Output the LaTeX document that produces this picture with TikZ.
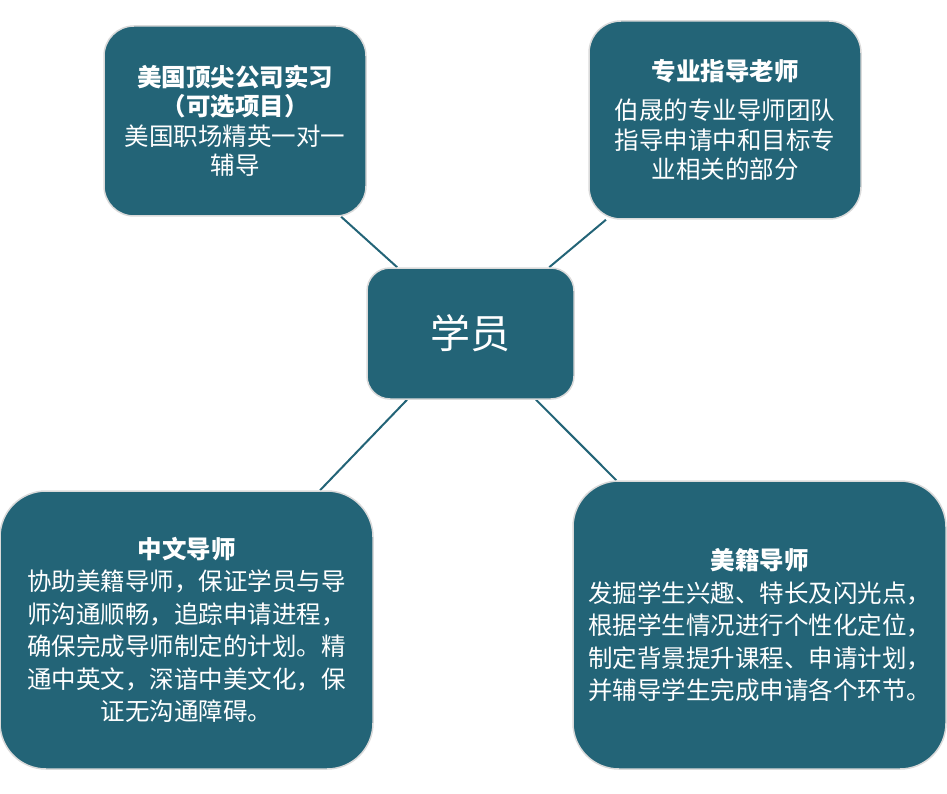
\documentclass[tikz,border=0pt]{standalone}
\usepackage{fontspec}
\newfontfamily\cjk{Noto Sans CJK SC}
\usetikzlibrary{backgrounds}
\definecolor{teal1}{RGB}{35,100,119}
\definecolor{rim}{RGB}{218,218,218}
\tikzset{
  box/.style={fill=teal1, draw=rim, line width=1.5pt, text=white, align=center, inner sep=0pt},
  link/.style={draw=teal1, line width=2pt},
  txtA/.style={font={\cjk\fontsize{24.5}{29.5}\selectfont}},
  txtB/.style={font={\cjk\fontsize{24.5}{32.5}\selectfont}},
}
\begin{document}
\begin{tikzpicture}[x=1pt,y=-1pt]
\useasboundingbox (0,0) rectangle (947,794);
\node[box, txtA, minimum width=262pt, minimum height=190pt, rounded corners=30pt] (tl) at (235,121)
  {{\bfseries 美国顶尖公司实习}\\{\bfseries （可选项目）}\\美国职场精英一对一\\辅导};
\node[box, txtA, minimum width=272pt, minimum height=198pt, rounded corners=32pt] (tr) at (725,120)
  {{\bfseries 专业指导老师}\\[10pt]伯晟的专业导师团队\\指导申请中和目标专\\业相关的部分};
\node[box, font={\cjk\fontsize{40}{44}\selectfont}, minimum width=207pt, minimum height=131pt, rounded corners=23pt] (c) at (470.5,333.5)
  {学员};
\node[box, txtB, minimum width=373pt, minimum height=278pt, rounded corners=46pt] (bl) at (186.5,630)
  {{\bfseries 中文导师}\\协助美籍导师，保证学员与导\\师沟通顺畅，追踪申请进程，\\确保完成导师制定的计划。精\\通中英文，深谙中美文化，保\\证无沟通障碍。};
\node[box, txtB, minimum width=373pt, minimum height=288pt, rounded corners=46pt] (br) at (759.5,625)
  {{\bfseries 美籍导师}\\发掘学生兴趣、特长及闪光点，\\根据学生情况进行个性化定位，\\制定背景提升课程、申请计划，\\并辅导学生完成申请各个环节。};
\begin{scope}[on background layer]
\draw[link] (tl) -- (c);
\draw[link] (tr) -- (c);
\draw[link] (bl) -- (c);
\draw[link] (br) -- (c);
\end{scope}
\end{tikzpicture}
\end{document}
